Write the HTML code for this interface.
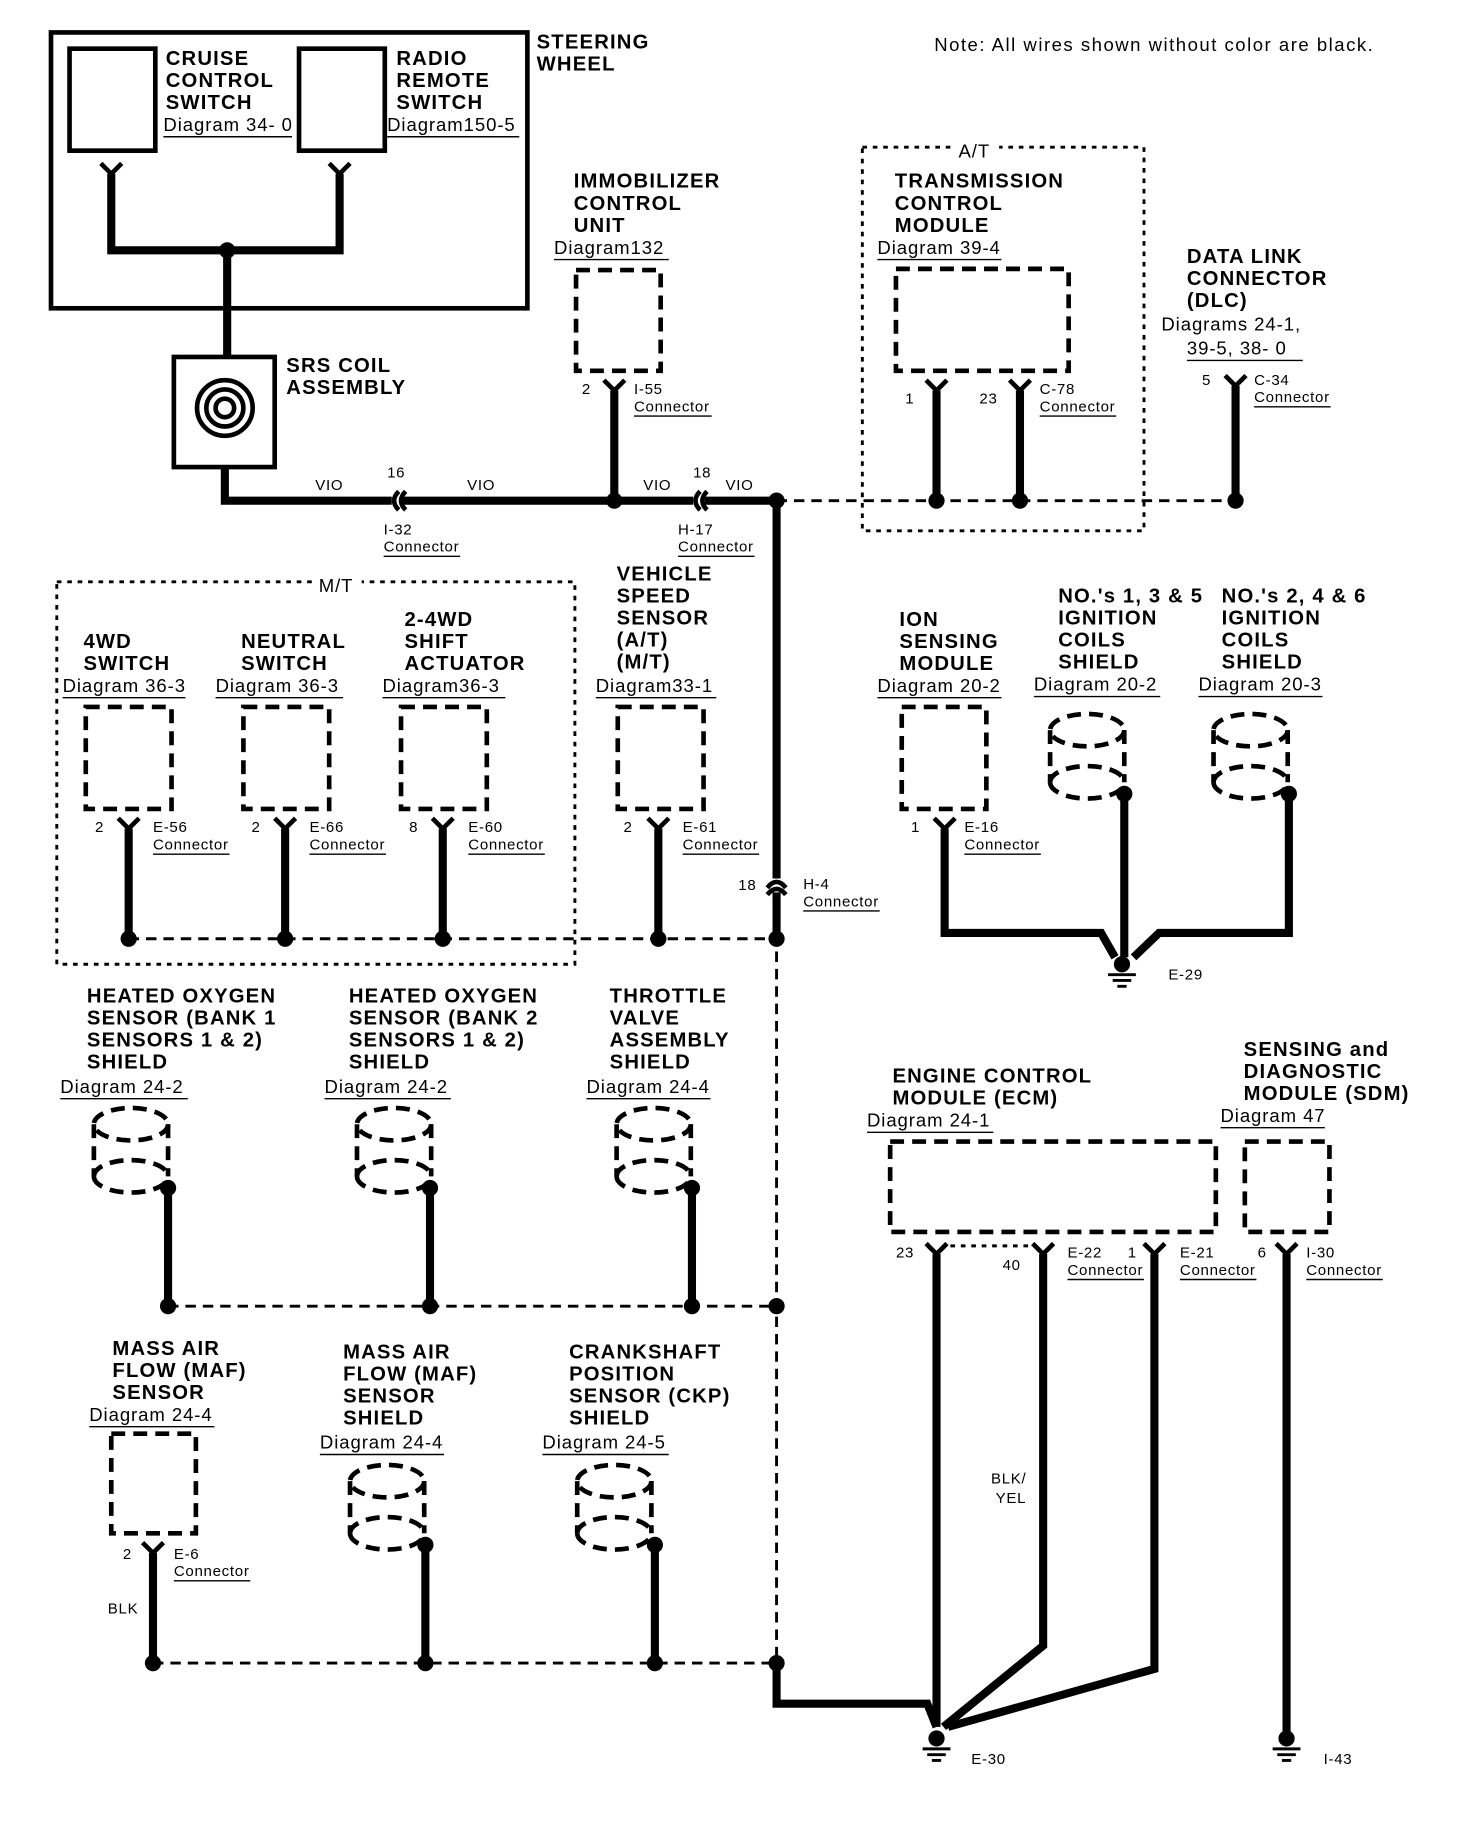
<!DOCTYPE html>
<html><head><meta charset="utf-8"><style>
html,body{margin:0;padding:0;background:#fff}
svg{display:block}
text{font-family:"Liberation Sans",sans-serif;fill:#000}
.b{font-weight:bold;font-size:17.5px;letter-spacing:1px}
.d{font-size:16px;letter-spacing:0.8px}
.n{font-size:16px;letter-spacing:1.3px}
.s{font-size:13px;letter-spacing:0.6px}
.t{stroke:#000;stroke-width:7;fill:none}
.k{stroke:#000;stroke-width:4;fill:none}
.ds{stroke:#000;stroke-width:4;fill:none;stroke-dasharray:12 7}
.dl{stroke:#000;stroke-width:2.5;fill:none;stroke-dasharray:9 6}
.dt{stroke:#000;stroke-width:2.5;fill:none;stroke-dasharray:4 5}
.u{stroke:#000;stroke-width:1.2}
</style></head><body>
<svg width="1472" height="1830" viewBox="0 0 1270 1579" preserveAspectRatio="none" xmlns="http://www.w3.org/2000/svg">
<defs>
<g id="y"><path d="M-9,-9 L0,0 L9,-9" stroke="#000" stroke-width="4" fill="none"/></g>
<g id="cyl"><ellipse cx="0" cy="0" rx="32" ry="14" class="ds"/><path d="M-32,0 V45 M32,0 V45" class="ds"/><path d="M-32,45 A32,14 0 0 0 32,45" class="ds"/><path d="M-32,45 A32,14 0 0 1 32,45" class="ds"/></g>
<g id="gnd"><circle cx="0" cy="0" r="7"/><path d="M-12,9 H12 M-8,14 H8 M-4,19 H4" stroke="#000" stroke-width="2.5"/></g>
</defs>
<text class="n" x="806" y="44">Note: All wires shown without color are black.</text>
<rect x="44" y="28" width="411" height="238" class="k"/>
<rect x="60" y="42" width="74" height="88" class="k"/>
<rect x="258" y="42" width="74" height="88" class="k"/>
<text class="b" x="143" y="56">CRUISE</text><text class="b" x="143" y="75">CONTROL</text><text class="b" x="143" y="94">SWITCH</text><text class="d" x="141" y="113">Diagram 34- 0</text><line x1="141" y1="118" x2="252" y2="118" class="u"/>
<text class="b" x="342" y="56">RADIO</text><text class="b" x="342" y="75">REMOTE</text><text class="b" x="342" y="94">SWITCH</text><text class="d" x="334" y="113">Diagram150-5</text><line x1="334" y1="118" x2="448" y2="118" class="u"/>
<text class="b" x="463" y="42">STEERING</text><text class="b" x="463" y="61">WHEEL</text>
<use href="#y" x="96" y="150"/><use href="#y" x="293" y="150"/>
<path d="M96,150 V216 H293 V150" class="t"/><circle cx="196" cy="216" r="7"/>
<path d="M196,216 V308" class="t"/>
<rect x="150" y="308" width="87" height="95" class="k"/>
<circle cx="194" cy="352" r="24" class="k"/><circle cx="194" cy="352" r="16" class="k" stroke-width="3"/><circle cx="194" cy="352" r="8" class="k" stroke-width="3"/>
<text class="b" x="247" y="321">SRS COIL</text><text class="b" x="247" y="340">ASSEMBLY</text>
<path d="M194,403 V432 H338 M348,432 H598 M608,432 H670" class="t"/>
<path d="M344,424 Q336,432 344,440 M350,424 Q342,432 350,440" class="k" stroke-width="3"/>
<path d="M604,424 Q596,432 604,440 M610,424 Q602,432 610,440" class="k" stroke-width="3"/>
<text class="s" x="272" y="423">VIO</text><text class="s" x="334" y="412">16</text><text class="s" x="403" y="423">VIO</text>
<text class="s" x="331" y="461">I-32</text><text class="s" x="331" y="476">Connector</text><line x1="331" y1="480" x2="397" y2="480" class="u"/>
<text class="s" x="555" y="423">VIO</text><text class="s" x="598" y="412">18</text><text class="s" x="626" y="423">VIO</text>
<text class="s" x="585" y="461">H-17</text><text class="s" x="585" y="476">Connector</text><line x1="585" y1="480" x2="651" y2="480" class="u"/>
<circle cx="530" cy="432" r="7"/><circle cx="670" cy="432" r="7"/>
<text class="b" x="495" y="162">IMMOBILIZER</text><text class="b" x="495" y="181">CONTROL</text><text class="b" x="495" y="200">UNIT</text><text class="d" x="478" y="219">Diagram132</text><line x1="478" y1="224" x2="577" y2="224" class="u"/>
<rect x="497" y="233" width="73" height="87" class="ds"/>
<use href="#y" x="530" y="337"/><path d="M530,337 V432" class="t"/>
<text class="s" x="502" y="340">2</text><text class="s" x="547" y="340">I-55</text><text class="s" x="547" y="355">Connector</text><line x1="547" y1="359" x2="614" y2="359" class="u"/>
<rect x="744" y="127" width="243" height="331" class="dt"/>
<rect x="820" y="120" width="42" height="14" fill="#fff"/><text class="d" x="827" y="136">A/T</text>
<text class="b" x="772" y="162">TRANSMISSION</text><text class="b" x="772" y="181">CONTROL</text><text class="b" x="772" y="200">MODULE</text><text class="d" x="757" y="219">Diagram 39-4</text><line x1="757" y1="224" x2="864" y2="224" class="u"/>
<rect x="773" y="232" width="149" height="88" class="ds"/>
<use href="#y" x="808" y="337"/><use href="#y" x="880" y="337"/>
<path d="M808,337 V432 M880,337 V432" class="t"/>
<text class="s" x="781" y="348">1</text><text class="s" x="845" y="348">23</text><text class="s" x="897" y="340">C-78</text><text class="s" x="897" y="355">Connector</text><line x1="897" y1="359" x2="963" y2="359" class="u"/>
<text class="b" x="1024" y="227">DATA LINK</text><text class="b" x="1024" y="246">CONNECTOR</text><text class="b" x="1024" y="265">(DLC)</text><text class="d" x="1002" y="285">Diagrams 24-1,</text><text class="d" x="1024" y="306">39-5, 38- 0</text><line x1="1024" y1="311" x2="1124" y2="311" class="u"/>
<use href="#y" x="1066" y="333"/><path d="M1066,333 V432" class="t"/>
<text class="s" x="1037" y="332">5</text><text class="s" x="1082" y="332">C-34</text><text class="s" x="1082" y="347">Connector</text><line x1="1082" y1="351" x2="1148" y2="351" class="u"/>
<path d="M670,432 H1066" class="dl"/>
<circle cx="808" cy="432" r="7"/><circle cx="880" cy="432" r="7"/><circle cx="1066" cy="432" r="7"/>
<path d="M670,432 V758 M670,770 V810" class="t"/>
<path d="M662,766 Q670,756 678,766 M662,772 Q670,762 678,772" class="k" stroke-width="3"/>
<text class="s" x="637" y="768">18</text><text class="s" x="693" y="767">H-4</text><text class="s" x="693" y="782">Connector</text><line x1="693" y1="786" x2="759" y2="786" class="u"/>
<rect x="49" y="502" width="447" height="330" class="dt"/>
<rect x="270" y="495" width="42" height="14" fill="#fff"/><text class="d" x="275" y="511">M/T</text>
<text class="b" x="72" y="559">4WD</text><text class="b" x="72" y="578">SWITCH</text><text class="d" x="54" y="597">Diagram 36-3</text><line x1="54" y1="602" x2="160" y2="602" class="u"/>
<text class="b" x="208" y="559">NEUTRAL</text><text class="b" x="208" y="578">SWITCH</text><text class="d" x="186" y="597">Diagram 36-3</text><line x1="186" y1="602" x2="296" y2="602" class="u"/>
<text class="b" x="349" y="540">2-4WD</text><text class="b" x="349" y="559">SHIFT</text><text class="b" x="349" y="578">ACTUATOR</text><text class="d" x="330" y="597">Diagram36-3</text><line x1="330" y1="602" x2="436" y2="602" class="u"/>
<text class="b" x="532" y="501">VEHICLE</text><text class="b" x="532" y="520">SPEED</text><text class="b" x="532" y="539">SENSOR</text><text class="b" x="532" y="558">(A/T)</text><text class="b" x="532" y="577">(M/T)</text><text class="d" x="514" y="597">Diagram33-1</text><line x1="514" y1="602" x2="618" y2="602" class="u"/>
<rect x="74" y="610" width="74" height="88" class="ds"/><rect x="210" y="610" width="74" height="88" class="ds"/><rect x="346" y="610" width="74" height="88" class="ds"/><rect x="533" y="610" width="74" height="88" class="ds"/>
<use href="#y" x="111" y="715"/><use href="#y" x="246" y="715"/><use href="#y" x="382" y="715"/><use href="#y" x="568" y="715"/>
<path d="M111,715 V810 M246,715 V810 M382,715 V810 M568,715 V810" class="t"/>
<text class="s" x="82" y="718">2</text><text class="s" x="132" y="718">E-56</text><text class="s" x="132" y="733">Connector</text><line x1="132" y1="737" x2="198" y2="737" class="u"/>
<text class="s" x="217" y="718">2</text><text class="s" x="267" y="718">E-66</text><text class="s" x="267" y="733">Connector</text><line x1="267" y1="737" x2="333" y2="737" class="u"/>
<text class="s" x="353" y="718">8</text><text class="s" x="404" y="718">E-60</text><text class="s" x="404" y="733">Connector</text><line x1="404" y1="737" x2="470" y2="737" class="u"/>
<text class="s" x="538" y="718">2</text><text class="s" x="589" y="718">E-61</text><text class="s" x="589" y="733">Connector</text><line x1="589" y1="737" x2="655" y2="737" class="u"/>
<path d="M111,810 H670 V1435" class="dl"/>
<circle cx="111" cy="810" r="7"/><circle cx="246" cy="810" r="7"/><circle cx="382" cy="810" r="7"/><circle cx="568" cy="810" r="7"/><circle cx="670" cy="810" r="7"/>
<text class="b" x="75" y="865">HEATED OXYGEN</text><text class="b" x="75" y="884">SENSOR (BANK 1</text><text class="b" x="75" y="903">SENSORS 1 &amp; 2)</text><text class="b" x="75" y="922">SHIELD</text><text class="d" x="52" y="943">Diagram 24-2</text><line x1="52" y1="948" x2="162" y2="948" class="u"/>
<text class="b" x="301" y="865">HEATED OXYGEN</text><text class="b" x="301" y="884">SENSOR (BANK 2</text><text class="b" x="301" y="903">SENSORS 1 &amp; 2)</text><text class="b" x="301" y="922">SHIELD</text><text class="d" x="280" y="943">Diagram 24-2</text><line x1="280" y1="948" x2="389" y2="948" class="u"/>
<text class="b" x="526" y="865">THROTTLE</text><text class="b" x="526" y="884">VALVE</text><text class="b" x="526" y="903">ASSEMBLY</text><text class="b" x="526" y="922">SHIELD</text><text class="d" x="506" y="943">Diagram 24-4</text><line x1="506" y1="948" x2="613" y2="948" class="u"/>
<use href="#cyl" x="113" y="970"/><use href="#cyl" x="340" y="970"/><use href="#cyl" x="564" y="970"/>
<circle cx="145" cy="1025" r="7"/><circle cx="371" cy="1025" r="7"/><circle cx="597" cy="1025" r="7"/>
<path d="M145,1025 V1127 M371,1025 V1127 M597,1025 V1127" class="t"/>
<path d="M145,1127 H670" class="dl"/>
<circle cx="145" cy="1127" r="7"/><circle cx="371" cy="1127" r="7"/><circle cx="597" cy="1127" r="7"/><circle cx="670" cy="1127" r="7"/>
<text class="b" x="97" y="1169">MASS AIR</text><text class="b" x="97" y="1188">FLOW (MAF)</text><text class="b" x="97" y="1207">SENSOR</text><text class="d" x="77" y="1226">Diagram 24-4</text><line x1="77" y1="1231" x2="185" y2="1231" class="u"/>
<text class="b" x="296" y="1172">MASS AIR</text><text class="b" x="296" y="1191">FLOW (MAF)</text><text class="b" x="296" y="1210">SENSOR</text><text class="b" x="296" y="1229">SHIELD</text><text class="d" x="276" y="1250">Diagram 24-4</text><line x1="276" y1="1255" x2="383" y2="1255" class="u"/>
<text class="b" x="491" y="1172">CRANKSHAFT</text><text class="b" x="491" y="1191">POSITION</text><text class="b" x="491" y="1210">SENSOR (CKP)</text><text class="b" x="491" y="1229">SHIELD</text><text class="d" x="468" y="1250">Diagram 24-5</text><line x1="468" y1="1255" x2="577" y2="1255" class="u"/>
<rect x="96" y="1237" width="73" height="86" class="ds"/>
<use href="#y" x="132" y="1340"/><path d="M132,1340 V1435" class="t"/>
<text class="s" x="106" y="1345">2</text><text class="s" x="150" y="1345">E-6</text><text class="s" x="150" y="1360">Connector</text><line x1="150" y1="1364" x2="216" y2="1364" class="u"/>
<text class="s" x="93" y="1392">BLK</text>
<use href="#cyl" x="334" y="1278"/><use href="#cyl" x="530" y="1278"/>
<circle cx="367" cy="1333" r="7"/><circle cx="565" cy="1333" r="7"/>
<path d="M367,1333 V1435 M565,1333 V1435" class="t"/>
<path d="M132,1435 H670" class="dl"/>
<circle cx="132" cy="1435" r="7"/><circle cx="367" cy="1435" r="7"/><circle cx="565" cy="1435" r="7"/><circle cx="670" cy="1435" r="7"/>
<path d="M670,1435 V1470 H800 L808,1490" class="t"/>
<text class="b" x="776" y="540">ION</text><text class="b" x="776" y="559">SENSING</text><text class="b" x="776" y="578">MODULE</text><text class="d" x="757" y="597">Diagram 20-2</text><line x1="757" y1="602" x2="864" y2="602" class="u"/>
<text class="b" x="913" y="520">NO.'s 1, 3 &amp; 5</text><text class="b" x="913" y="539">IGNITION</text><text class="b" x="913" y="558">COILS</text><text class="b" x="913" y="577">SHIELD</text><text class="d" x="892" y="596">Diagram 20-2</text><line x1="892" y1="601" x2="1001" y2="601" class="u"/>
<text class="b" x="1054" y="520">NO.'s 2, 4 &amp; 6</text><text class="b" x="1054" y="539">IGNITION</text><text class="b" x="1054" y="558">COILS</text><text class="b" x="1054" y="577">SHIELD</text><text class="d" x="1034" y="596">Diagram 20-3</text><line x1="1034" y1="601" x2="1141" y2="601" class="u"/>
<rect x="778" y="610" width="73" height="88" class="ds"/>
<use href="#cyl" x="938" y="630"/><use href="#cyl" x="1079" y="630"/>
<circle cx="970" cy="685" r="7"/><circle cx="1112" cy="685" r="7"/>
<use href="#y" x="815" y="715"/>
<text class="s" x="786" y="718">1</text><text class="s" x="832" y="718">E-16</text><text class="s" x="832" y="733">Connector</text><line x1="832" y1="737" x2="898" y2="737" class="u"/>
<path d="M815,715 V805 H950 L962,826 M970,685 V826 M1112,685 V805 H1000 L978,826" class="t"/>
<use href="#gnd" x="968" y="832"/><text class="s" x="1008" y="845">E-29</text>
<text class="b" x="770" y="934">ENGINE CONTROL</text><text class="b" x="770" y="953">MODULE (ECM)</text><text class="d" x="748" y="972">Diagram 24-1</text><line x1="748" y1="977" x2="857" y2="977" class="u"/>
<text class="b" x="1073" y="911">SENSING and</text><text class="b" x="1073" y="930">DIAGNOSTIC</text><text class="b" x="1073" y="949">MODULE (SDM)</text><text class="d" x="1053" y="968">Diagram 47</text><line x1="1053" y1="973" x2="1143" y2="973" class="u"/>
<rect x="768" y="985" width="281" height="78" class="ds"/><rect x="1074" y="985" width="73" height="78" class="ds"/>
<path d="M820,1075 H890" class="dt"/>
<use href="#y" x="808" y="1082"/><use href="#y" x="900" y="1082"/><use href="#y" x="996" y="1082"/><use href="#y" x="1110" y="1082"/>
<text class="s" x="773" y="1085">23</text><text class="s" x="865" y="1096">40</text><text class="s" x="921" y="1085">E-22</text><text class="s" x="921" y="1100">Connector</text><line x1="921" y1="1104" x2="987" y2="1104" class="u"/>
<text class="s" x="973" y="1085">1</text><text class="s" x="1018" y="1085">E-21</text><text class="s" x="1018" y="1100">Connector</text><line x1="1018" y1="1104" x2="1084" y2="1104" class="u"/>
<text class="s" x="1085" y="1085">6</text><text class="s" x="1127" y="1085">I-30</text><text class="s" x="1127" y="1100">Connector</text><line x1="1127" y1="1104" x2="1193" y2="1104" class="u"/>
<path d="M808,1082 V1490 M900,1082 V1420 L814,1490 M996,1082 V1440 L818,1490 M1110,1082 V1495" class="t"/>
<text class="s" x="855" y="1280">BLK/</text><text class="s" x="859" y="1297">YEL</text>
<use href="#gnd" x="808" y="1500"/><text class="s" x="838" y="1522">E-30</text>
<use href="#gnd" x="1110" y="1500"/><text class="s" x="1142" y="1522">I-43</text>
</svg>
</body></html>
